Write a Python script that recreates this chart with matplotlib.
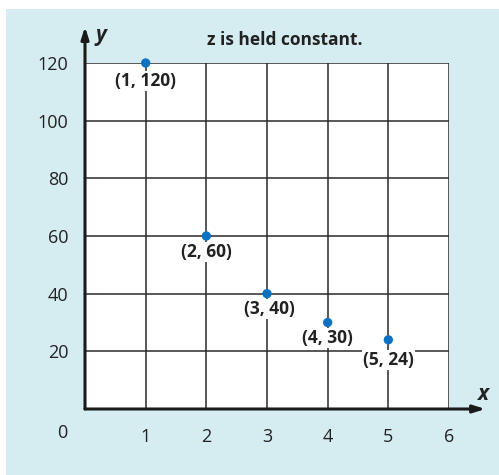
import matplotlib
matplotlib.use("Agg")
import matplotlib.pyplot as plt
from matplotlib.patches import Rectangle

x_vals = [1, 2, 3, 4, 5]
y_vals = [120, 60, 40, 30, 24]
point_labels = ["(1, 120)", "(2, 60)", "(3, 40)", "(4, 30)", "(5, 24)"]
x_ticks = [1, 2, 3, 4, 5, 6]
y_ticks = [20, 40, 60, 80, 100, 120]
title = "z is held constant."

W, H = 499, 475
plt.rcParams['font.family'] = ['Open Sans', 'DejaVu Sans']
fig = plt.figure(figsize=(W / 100, H / 100), dpi=100)
fig.patch.set_facecolor("white")

def fx(px):
    return px / W

def fy(py):
    return 1 - py / H

# light blue panel
fig.patches.append(Rectangle((fx(6), 0), 1 - fx(6), fy(9), transform=fig.transFigure,
                             facecolor="#d5ecf1", edgecolor="none", zorder=-10))

ax = fig.add_axes([fx(85), fy(409), fx(449) - fx(85), fy(63) - fy(409)])
ax.set_zorder(1)
ax.set_facecolor("white")
ax.set_xlim(0, 6)
ax.set_ylim(0, 120)
for s in ax.spines.values():
    s.set_visible(False)

grid_color = "#2a2a2a"
for xv in x_ticks:
    ax.plot([xv, xv], [0, 120], color=grid_color, lw=1.1, zorder=1)
for yv in y_ticks:
    ax.plot([0, 6], [yv, yv], color=grid_color, lw=1.1, zorder=1)

# axes with arrows
ax.annotate("", xy=(6.6, 0), xytext=(0, 0), xycoords="data",
            arrowprops=dict(arrowstyle="-|>,head_length=0.7,head_width=0.22", color="#1a1a1a", lw=2.2,
                            shrinkA=0, shrinkB=0), annotation_clip=False, zorder=5)
ax.annotate("", xy=(0, 132.6), xytext=(0, 0), xycoords="data",
            arrowprops=dict(arrowstyle="-|>,head_length=0.7,head_width=0.22", color="#1a1a1a", lw=2.2,
                            shrinkA=0, shrinkB=0), annotation_clip=False, zorder=5)

ax.set_xticks(x_ticks)
ax.set_xticklabels([str(v) for v in x_ticks], fontsize=13, color="#222222")
ax.set_yticks(y_ticks)
ax.set_yticklabels([str(v) for v in y_ticks], fontsize=13, color="#222222")
ax.tick_params(axis="both", length=0)
ax.tick_params(axis="x", pad=14)
ax.tick_params(axis="y", pad=12)

fig.text(fx(62), fy(433), "0", fontsize=13, color="#222222", ha="center", va="center")

ax.scatter(x_vals, y_vals, s=45, color="#0a72c0", zorder=6, clip_on=False, edgecolors="none")

offsets = [(0, -13), (0, -11.5), (1.5, -11), (0, -11), (0, -14.5)]
for xv, yv, lab, off in zip(x_vals, y_vals, point_labels, offsets):
    ax.annotate(lab, (xv, yv), xytext=off, textcoords="offset points", ha="center", va="center",
                fontsize=12.5, fontweight="bold", color="#222222", zorder=4,
                bbox=dict(boxstyle="square,pad=0.05", facecolor="white", edgecolor="none"))

fig.text(fx(285), fy(40), title, fontsize=12.5, fontweight="bold", color="#222222",
         ha="center", va="center")
fig.text(fx(101), fy(35), "y", fontsize=15, fontweight="bold", style="italic", color="#222222",
         ha="center", va="center")
fig.text(fx(483), fy(394), "x", fontsize=15, fontweight="bold", style="italic", color="#222222",
         ha="center", va="center")

fig.savefig("out.png", dpi=100, facecolor=fig.get_facecolor())
